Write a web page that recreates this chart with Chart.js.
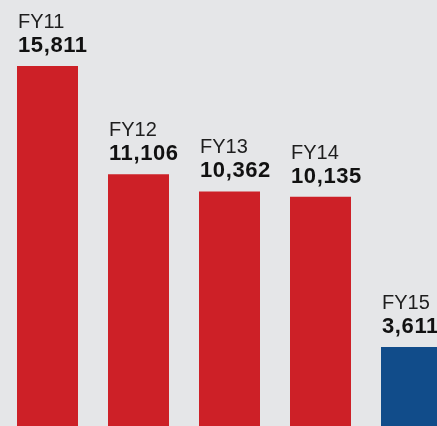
<!DOCTYPE html>
<html>
<head>
<meta charset="utf-8">
<script src="https://cdn.jsdelivr.net/npm/chart.js@4"></script>
<style>
  html, body { margin: 0; padding: 0; background: #e5e6e8; overflow: hidden; }
  #wrap { position: absolute; left: 0; top: 0; width: 457px; height: 430px; }
</style>
</head>
<body>
<div id="wrap"><canvas id="sales"></canvas></div>
<script>
const years = ['FY11', 'FY12', 'FY13', 'FY14', 'FY15']
const totals = [15811, 11106, 10362, 10135, 3611]
const barColors = ['#cd2027', '#cd2027', '#cd2027', '#cd2027', '#114c8a']

// writes the year and the bold value above each bar
const barLabels = {
  id: 'barLabels',
  afterDatasetsDraw (chart) {
    const ctx = chart.ctx
    const bars = chart.getDatasetMeta(0).data
    ctx.save()
    ctx.textAlign = 'left'
    ctx.textBaseline = 'alphabetic'
    bars.forEach((bar, i) => {
      const left = bar.x - bar.width / 2 + 1
      ctx.fillStyle = '#1e1e1e'
      ctx.letterSpacing = '0px'
      ctx.font = '20px "Liberation Sans", Arial, sans-serif'
      ctx.fillText(years[i], left, bar.y - 38)
      ctx.fillStyle = '#111111'
      ctx.letterSpacing = '0.6px'
      ctx.font = 'bold 22px "Liberation Sans", Arial, sans-serif'
      ctx.fillText(totals[i].toLocaleString('en-US'), left, bar.y - 14)
    })
    ctx.restore()
  }
}

new Chart(document.getElementById('sales'), {
  type: 'bar',
  data: {
    labels: years,
    datasets: [{
      data: totals,
      backgroundColor: barColors,
      borderWidth: 0,
      barPercentage: 0.6703,
      categoryPercentage: 1
    }]
  },
  options: {
    responsive: true,
    maintainAspectRatio: false,
    animation: false,
    layout: { padding: { left: 2, right: 0, top: 0, bottom: 0 } },
    plugins: { legend: { display: false }, tooltip: { enabled: false } },
    scales: {
      x: { display: false },
      y: { display: false, min: 0, max: 18680 }
    }
  },
  plugins: [barLabels]
})
</script>
</body>
</html>
